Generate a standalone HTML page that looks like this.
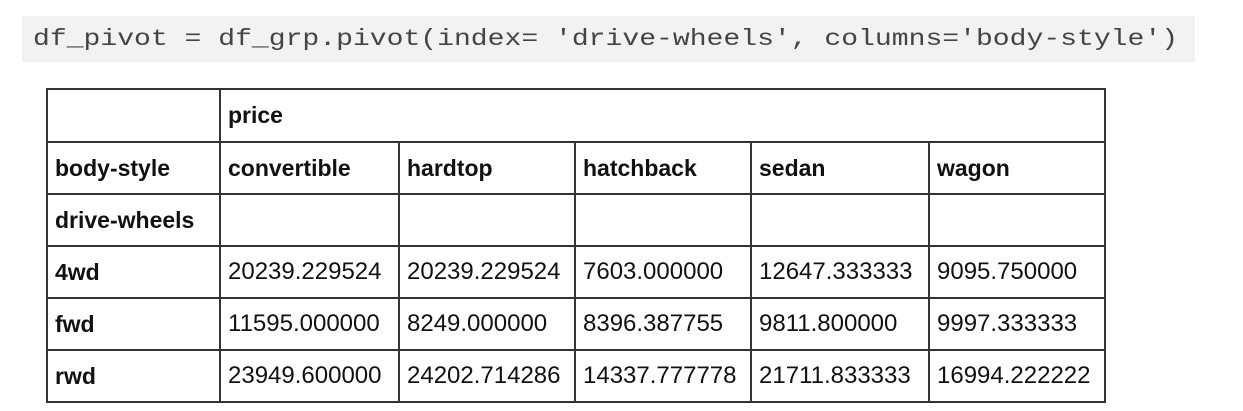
<!DOCTYPE html>
<html><head><style>
html,body{margin:0;padding:0;background:#fff;width:1243px;height:411px;overflow:hidden}
.code{position:absolute;left:22px;top:16px;width:1173px;height:46px;background:#f2f2f2}
.code span{position:absolute;left:11px;top:9px;font-family:"Liberation Mono",monospace;font-size:23px;color:#444;white-space:pre;transform:scaleX(1.22);transform-origin:0 0;line-height:28px}
table{position:absolute;left:46px;top:88px;border-collapse:collapse;font-family:"Liberation Sans",sans-serif;font-size:24px;color:#111}
td{border:2px solid #333;height:48px;padding:0 0 0 7px;box-sizing:border-box;vertical-align:middle;white-space:nowrap}
td.h{font-weight:bold;font-size:23px}
</style></head><body>
<div class="code"><span>df_pivot = df_grp.pivot(index= 'drive-wheels', columns='body-style')</span></div>
<table>
<colgroup><col style="width:173px"><col style="width:179px"><col style="width:176px"><col style="width:176px"><col style="width:178px"><col style="width:176px"></colgroup>
<tr style="height:53px"><td></td><td class="h" colspan="5">price</td></tr>
<tr style="height:52px"><td class="h">body-style</td><td class="h">convertible</td><td class="h">hardtop</td><td class="h">hatchback</td><td class="h">sedan</td><td class="h">wagon</td></tr>
<tr style="height:52px"><td class="h">drive-wheels</td><td></td><td></td><td></td><td></td><td></td></tr>
<tr style="height:52px"><td class="h">4wd</td><td>20239.229524</td><td>20239.229524</td><td>7603.000000</td><td>12647.333333</td><td>9095.750000</td></tr>
<tr style="height:52px"><td class="h">fwd</td><td>11595.000000</td><td>8249.000000</td><td>8396.387755</td><td>9811.800000</td><td>9997.333333</td></tr>
<tr style="height:52px"><td class="h">rwd</td><td>23949.600000</td><td>24202.714286</td><td>14337.777778</td><td>21711.833333</td><td>16994.222222</td></tr>
</table>
</body></html>
